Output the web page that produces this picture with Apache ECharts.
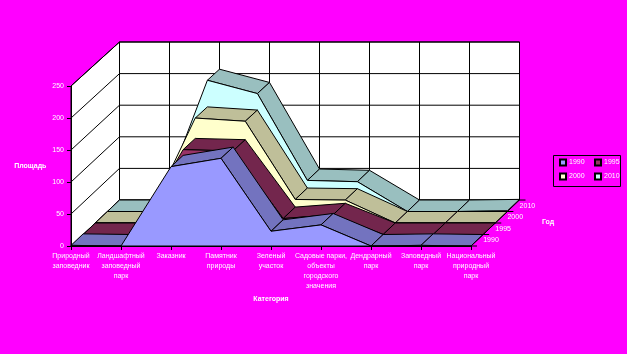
<!DOCTYPE html>
<html><head><meta charset="utf-8">
<style>html,body{margin:0;padding:0;background:#ff00ff}#c{width:627px;height:354px}</style>
<script src="https://cdn.jsdelivr.net/npm/echarts@6/dist/echarts.min.js"></script>
</head><body><div id="c"></div>
<script>
const categories = [
  'Природный\nзаповедник','Ландшафтный\nзаповедный\nпарк','Заказник','Памятник\nприроды',
  'Зеленый\nучасток','Садовые парки,\nобъекты\nгородского\nзначения','Дендрарный\nпарк',
  'Заповедный\nпарк','Национальный\nприродный\nпарк'];
const years = ['1990','1995','2000','2010'];
const v1990 = [1,0,124,137,23,33,0,1,0];
const v1995 = [0,0,133,131,25,31,0,0,0];
const v2000 = [0,0,165,160,37,36,0,0,0];
const v2010 = [0,0,207,186,49,47,0,0,1];
const yTicks = [0,50,100,150,200,250];
const frontColors = ['#9999FF','#993366','#FFFFCC','#CCFFFF'];
const topColors = ['#7373BF','#73264D','#BFBF99','#99BFBF'];
const allValues = [v1990,v1995,v2000,v2010];

const DX = 48.5, DY = -46, SHRINK = 0.0125;
const K = '#000';
const txt = {color:'#fff',fontFamily:'Liberation Sans',fontSize:7,textShadowColor:'#8a8a8a',textShadowOffsetY:1,textShadowOffsetX:0,textShadowBlur:0};

function proj(api,c,v,d){
  const p = api.coord([c,v]), f = api.coord([c,0]);
  return [p[0]+DX*d, f[1]+(p[1]-f[1])*(1-SHRINK*d)+DY*d];
}
function poly(points,fill,w){
  return {type:'polygon',shape:{points},style:{fill,stroke:K,lineWidth:w||1}};
}
function line(a,b){
  return {type:'line',shape:{x1:a[0],y1:a[1],x2:b[0],y2:b[1]},style:{stroke:K,lineWidth:1,fill:null}};
}
function ribbon(si){
  const vals = allValues[si], d0 = si/4, d1 = (si+1)/4;
  return function(params,api){
    const i = api.value(0), kids = [];
    if(i < vals.length-1){
      const a = proj(api,i,vals[i],d0), b = proj(api,i+1,vals[i+1],d0),
            c = proj(api,i+1,vals[i+1],d1), e = proj(api,i,vals[i],d1);
      const cross = (b[0]-a[0])*(e[1]-a[1])-(b[1]-a[1])*(e[0]-a[0]);
      if(cross <= 0) kids.push(poly([a,b,c,e],topColors[si]));
    } else {
      const pts = vals.map((v,k)=>proj(api,k,v,d0));
      pts.push(proj(api,vals.length-1,0,d0));
      pts.push(proj(api,0,0,d0));
      kids.push(poly(pts,frontColors[si]));
    }
    return {type:'group',children:kids};
  };
}
function walls(params,api){
  const n = categories.length-1, top = yTicks[yTicks.length-1], idx = params.dataIndex, kids = [];
  if(idx===0){
    kids.push(poly([proj(api,0,0,1),proj(api,n,0,1),proj(api,n,top,1),proj(api,0,top,1)],'#fff'));
    kids.push(poly([proj(api,0,0,0),proj(api,0,0,1),proj(api,0,top,1),proj(api,0,top,0)],'#fff'));
    categories.forEach((_,c)=>kids.push(line(proj(api,c,0,1),proj(api,c,top,1))));
  }
  const v = api.value(0);
  kids.push(line(proj(api,0,v,0),proj(api,0,v,1)));
  kids.push(line(proj(api,0,v,1),proj(api,n,v,1)));
  return {type:'group',children:kids};
}
function depthAxis(params,api){
  const n = categories.length-1, i = params.dataIndex, kids = [];
  const a = proj(api,n,0,i/4), b = proj(api,n,0,(i+1)/4);
  kids.push(line(a,b));
  kids.push(line(a,[a[0]+6,a[1]]));
  if(i===years.length-1) kids.push(line(b,[b[0]+6,b[1]]));
  kids.push({type:'text',style:Object.assign({},txt,{text:years[i],x:a[0]+20,y:a[1]-5.5,align:'center',verticalAlign:'middle',fill:'#fff',stroke:null,shadowColor:'#8a8a8a',shadowOffsetY:1})});
  if(i===2) kids.push({type:'text',style:{text:'Год',x:548,y:222,align:'center',verticalAlign:'middle',fill:'#fff',font:'bold 7px Liberation Sans',shadowColor:'#333',shadowOffsetY:1}});
  return {type:'group',children:kids};
}
const seriesList = [
  {type:'custom',name:'walls',data:yTicks.map(v=>[v]),renderItem:walls,z:1,silent:true,encode:{x:-1,y:0},coordinateSystem:'cartesian2d'}
];
years.forEach((y,si)=>{
  seriesList.push({type:'custom',name:y,coordinateSystem:'cartesian2d',
    data:allValues[si].map((v,i)=>[i,v]),renderItem:ribbon(si),z:10-si,silent:true,
    encode:{x:0,y:1},itemStyle:{color:frontColors[si],borderColor:K,borderWidth:1}});
});
seriesList.push({type:'custom',name:'depth',coordinateSystem:'cartesian2d',data:years.map((y,i)=>[i]),renderItem:depthAxis,z:11,silent:true,encode:{x:-1,y:-1}});

function legendCol(names,left){
  return {data:names,left,top:158.5,orient:'vertical',padding:0,
    icon:'rect',itemWidth:6,itemHeight:6,itemGap:6,selectedMode:false,
    textStyle:Object.assign({},txt,{padding:[0,0,0,-2]})};
}
const chart = echarts.init(document.getElementById('c'),null,{renderer:'canvas'});
chart.setOption({
  animation:false,
  backgroundColor:'#FF00FF',
  grid:{left:71,top:86,width:400,height:160,containLabel:false},
  graphic:[{type:'rect',shape:{x:553.5,y:155.5,width:67,height:31},style:{fill:'none',stroke:K,lineWidth:1},silent:true}],
  xAxis:{type:'category',data:categories,boundaryGap:false,z:12,
    axisLine:{show:true,lineStyle:{color:K,width:1}},
    axisTick:{show:true,length:4,alignWithLabel:true,lineStyle:{color:K,width:1},interval:0},
    axisLabel:Object.assign({interval:0,lineHeight:10,margin:5,hideOverlap:false},txt),
    splitLine:{show:false},
    name:'Категория',nameLocation:'middle',nameGap:50,
    nameTextStyle:{color:'#fff',fontFamily:'Liberation Sans',fontSize:7,fontWeight:'bold',textShadowColor:'#333',textShadowOffsetY:1,textShadowBlur:0}},
  yAxis:{type:'value',min:0,max:250,interval:50,z:12,
    axisLine:{show:true,lineStyle:{color:K,width:1}},
    axisTick:{show:true,length:4,lineStyle:{color:K,width:1}},
    axisLabel:Object.assign({margin:7},txt),
    splitLine:{show:false},
    name:'Площадь',nameLocation:'middle',nameRotate:0,nameGap:24,
    nameTextStyle:{color:'#fff',fontFamily:'Liberation Sans',fontSize:7,fontWeight:'bold',textShadowColor:'#333',textShadowOffsetY:1,textShadowBlur:0}},
  legend:[legendCol([years[0],years[2]],559),legendCol([years[1],years[3]],594)],
  series:seriesList
});
</script></body></html>
